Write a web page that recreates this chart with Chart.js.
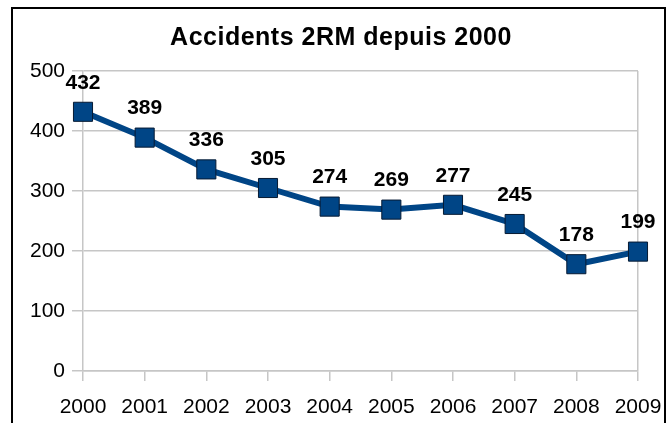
<!DOCTYPE html>
<html>
<head>
<meta charset="utf-8">
<script src="https://cdn.jsdelivr.net/npm/chart.js@4"></script>
<style>
  html, body { margin: 0; padding: 0; background: #ffffff; }
  #wrap { position: relative; width: 672px; height: 423px; }
</style>
</head>
<body>
<div id="wrap"><canvas id="myChart" width="672" height="423"></canvas></div>
<script>
// data
const years = ['2000', '2001', '2002', '2003', '2004', '2005', '2006', '2007', '2008', '2009'];
const accidents = [432, 389, 336, 305, 274, 269, 277, 245, 178, 199];
const yTicks = [0, 100, 200, 300, 400, 500];
const chartTitle = 'Accidents 2RM depuis 2000';

const FONT = '"Liberation Sans", Arial, sans-serif';
const BLUE = '#004586';
const GRID = '#c6c6c6';

// outer frame, title and value labels
const decorations = {
  id: 'decorations',
  beforeDraw(chart) {
    const c = chart.ctx;
    c.save();
    c.fillStyle = '#ffffff';
    c.fillRect(0, 0, chart.width, chart.height);
    c.restore();
  },
  afterDraw(chart) {
    const c = chart.ctx;
    c.save();
    c.strokeStyle = '#000000';
    c.lineWidth = 2;
    c.strokeRect(12, 8, 653, 500);

    c.fillStyle = '#000000';
    c.font = 'bold 25px ' + FONT;
    c.textAlign = 'center';
    c.textBaseline = 'middle';
    if ('letterSpacing' in c) c.letterSpacing = '0.5px';
    c.fillText(chartTitle, 341, 38);
    if ('letterSpacing' in c) c.letterSpacing = '0px';

    // value above each point
    c.font = 'bold 21px ' + FONT;
    const meta = chart.getDatasetMeta(0);
    meta.data.forEach((pt, i) => {
      c.fillText(String(accidents[i]), pt.x, pt.y - 29);
    });
    c.restore();
  }
};

new Chart(document.getElementById('myChart'), {
  type: 'line',
  data: {
    labels: years,
    datasets: [{
      data: accidents,
      borderColor: BLUE,
      borderWidth: 6,
      backgroundColor: BLUE,
      pointStyle: 'rect',
      pointRadius: 13.5,
      pointBackgroundColor: BLUE,
      pointBorderColor: '#061a33',
      pointBorderWidth: 1,
      tension: 0
    }]
  },
  options: {
    responsive: false,
    animation: false,
    layout: { padding: { left: 0, top: 71, right: 34, bottom: 0 } },
    plugins: {
      legend: { display: false },
      title: { display: false },
      tooltip: { enabled: false }
    },
    scales: {
      x: {
        offset: false,
        grid: {
          color: (ctx) => ctx.index === years.length - 1 ? GRID : 'transparent',
          tickColor: GRID,
          tickLength: 10,
          lineWidth: 1.5
        },
        border: { color: GRID, width: 1.5 },
        ticks: { color: '#000000', font: { family: FONT, size: 21 }, padding: 14, maxRotation: 0, autoSkip: false },
        afterFit: (scale) => {
          scale.height = 52;
          scale.paddingLeft = 0;
          scale.paddingRight = 0;
        }
      },
      y: {
        min: 0,
        max: 500,
        afterBuildTicks: (scale) => { scale.ticks = yTicks.map(v => ({ value: v })); },
        grid: { color: GRID, tickColor: GRID, tickLength: 11, lineWidth: 1.5 },
        border: { color: GRID, width: 1.5 },
        ticks: { color: '#000000', font: { family: FONT, size: 21 }, padding: 7 },
        afterFit: (scale) => { scale.width = 83; }
      }
    }
  },
  plugins: [decorations]
});
</script>
</body>
</html>
